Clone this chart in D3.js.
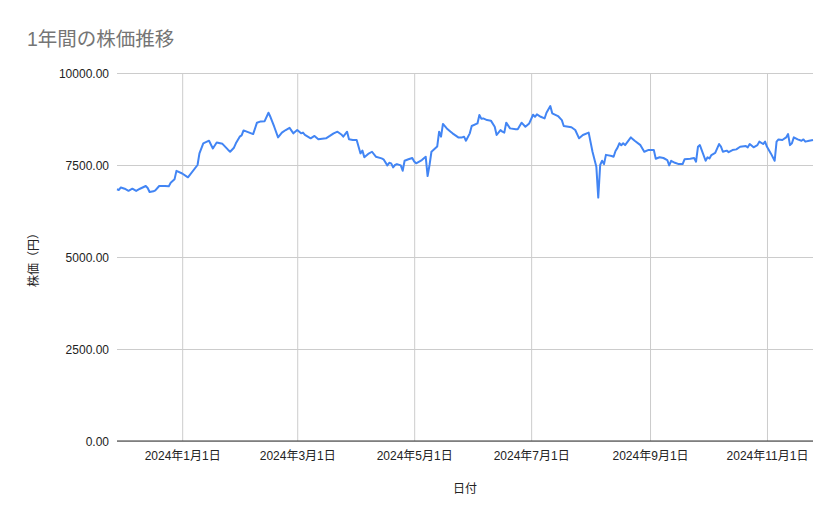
<!DOCTYPE html>
<html>
<head>
<meta charset="utf-8">
<script src="https://cdn.jsdelivr.net/npm/d3@7"></script>
<style>
  body { margin: 0; background: #fff; }
  text { font-family: "Liberation Sans", Arial, "Noto Sans CJK JP", sans-serif; }
</style>
</head>
<body>
<div id="container"></div>
<script>
/* DATA */
const title = "1年間の株価推移";
const xTitle = "日付";
const yTitle = "株価（円）";
const yTicks = [0, 2500, 5000, 7500, 10000];
const xTicks = ["2024-01-01", "2024-03-01", "2024-05-01", "2024-07-01", "2024-09-01", "2024-11-01"];

// closing price by date
const dates = [
  "2023-11-28","2023-11-29","2023-11-30","2023-12-02","2023-12-04","2023-12-06","2023-12-08","2023-12-10",
  "2023-12-13","2023-12-14","2023-12-15","2023-12-17","2023-12-18","2023-12-20","2023-12-23","2023-12-25",
  "2023-12-26","2023-12-28","2023-12-29","2024-01-01","2024-01-04","2024-01-09","2024-01-10","2024-01-12",
  "2024-01-15","2024-01-17","2024-01-19","2024-01-22","2024-01-25","2024-01-26","2024-01-28","2024-01-29",
  "2024-01-31","2024-02-01","2024-02-02","2024-02-04","2024-02-07","2024-02-09","2024-02-11","2024-02-13",
  "2024-02-15","2024-02-16","2024-02-18","2024-02-20","2024-02-22","2024-02-24","2024-02-26","2024-02-28",
  "2024-03-01","2024-03-03","2024-03-04","2024-03-05","2024-03-08","2024-03-10","2024-03-12","2024-03-14",
  "2024-03-16","2024-03-18","2024-03-20","2024-03-22","2024-03-24","2024-03-25","2024-03-27","2024-03-28",
  "2024-03-30","2024-04-01","2024-04-03","2024-04-04","2024-04-05","2024-04-07","2024-04-09","2024-04-11",
  "2024-04-14","2024-04-15","2024-04-17","2024-04-18","2024-04-19","2024-04-20","2024-04-21","2024-04-22",
  "2024-04-24","2024-04-25","2024-04-26","2024-04-28","2024-04-30","2024-05-01","2024-05-02","2024-05-05",
  "2024-05-07","2024-05-08","2024-05-09","2024-05-10","2024-05-13","2024-05-14","2024-05-15","2024-05-16",
  "2024-05-18","2024-05-20","2024-05-21","2024-05-24","2024-05-26","2024-05-27","2024-05-28","2024-05-30",
  "2024-05-31","2024-06-03","2024-06-04","2024-06-05","2024-06-06","2024-06-08","2024-06-10","2024-06-12",
  "2024-06-13","2024-06-15","2024-06-16","2024-06-17","2024-06-18","2024-06-20","2024-06-23","2024-06-24",
  "2024-06-26","2024-06-28","2024-06-30","2024-07-02","2024-07-03","2024-07-04","2024-07-06","2024-07-08",
  "2024-07-09","2024-07-11","2024-07-12","2024-07-15","2024-07-17","2024-07-18","2024-07-22","2024-07-24",
  "2024-07-26","2024-07-28","2024-07-31","2024-08-02","2024-08-04","2024-08-05","2024-08-06","2024-08-07",
  "2024-08-08","2024-08-09","2024-08-12","2024-08-13","2024-08-14","2024-08-15","2024-08-16","2024-08-17",
  "2024-08-18","2024-08-19","2024-08-22","2024-08-24","2024-08-27","2024-08-29","2024-08-31","2024-09-03",
  "2024-09-04","2024-09-06","2024-09-08","2024-09-10","2024-09-11","2024-09-12","2024-09-14","2024-09-16",
  "2024-09-18","2024-09-19","2024-09-22","2024-09-24","2024-09-25","2024-09-26","2024-09-27","2024-09-30",
  "2024-10-01","2024-10-02","2024-10-03","2024-10-05","2024-10-07","2024-10-08","2024-10-09","2024-10-11",
  "2024-10-12","2024-10-14","2024-10-16","2024-10-18","2024-10-21","2024-10-22","2024-10-23","2024-10-25",
  "2024-10-27","2024-10-28","2024-10-30","2024-10-31","2024-11-01","2024-11-03","2024-11-05","2024-11-06",
  "2024-11-07","2024-11-09","2024-11-11","2024-11-12","2024-11-13","2024-11-14","2024-11-15","2024-11-17",
  "2024-11-19","2024-11-20","2024-11-21","2024-11-23","2024-11-25"
];
const prices = [
  6840, 6820, 6890, 6855, 6800, 6855, 6795, 6855,
  6930, 6875, 6765, 6785, 6810, 6930, 6930, 6920,
  7020, 7110, 7340, 7270, 7165, 7500, 7815, 8090,
  8160, 7950, 8110, 8075, 7910, 7860, 7970, 8090,
  8270, 8305, 8440, 8400, 8340, 8650, 8685, 8690,
  8920, 8810, 8540, 8250, 8380, 8450, 8510, 8360,
  8450, 8360, 8380, 8320, 8225, 8290, 8200, 8215,
  8225, 8290, 8360, 8405, 8330, 8270, 8405, 8200,
  8180, 8180, 7815, 7890, 7710, 7800, 7860, 7725,
  7680, 7655, 7490, 7560, 7545, 7435, 7500, 7525,
  7490, 7345, 7615, 7655, 7690, 7595, 7545, 7635,
  7725, 7200, 7500, 7860, 8000, 8405, 8270, 8615,
  8495, 8405, 8360, 8250, 8250, 8270, 8160, 8360,
  8560, 8630, 8860, 8760, 8765, 8720, 8705, 8540,
  8315, 8450, 8405, 8380, 8650, 8495, 8470, 8470,
  8650, 8540, 8630, 8865, 8810, 8875, 8810, 8765,
  8920, 9100, 8905, 8830, 8720, 8560, 8525, 8450,
  8225, 8315, 8380, 7860, 7455, 6615, 7500, 7615,
  7525, 7775, 7745, 7725, 7880, 7965, 8090, 8035,
  8090, 8040, 8250, 8160, 8040, 7860, 7905, 7905,
  7670, 7710, 7690, 7635, 7490, 7615, 7560, 7525,
  7525, 7655, 7670, 7690, 7590, 7995, 8040, 7615,
  7710, 7680, 7770, 7830, 8070, 8000, 7860, 7890,
  7850, 7905, 7925, 7995, 8015, 7980, 8070, 7980,
  8040, 8135, 8070, 8135, 7995, 7815, 7615, 8135,
  8195, 8180, 8250, 8340, 8040, 8090, 8250, 8195,
  8160, 8195, 8135, 8160, 8180
];

/* CONSTANTS */
const width = 839, height = 519,
      margin = { top: 73, bottom: 78, left: 117, right: 26 };

const parse = d3.timeParse("%Y-%m-%d");
const data = dates.map((d, i) => ({ date: parse(d), price: prices[i] }));

/* SCALES */
const xScale = d3.scaleTime()
  .domain(d3.extent(data, d => d.date))
  .range([margin.left, width - margin.right]);

const yScale = d3.scaleLinear()
  .domain([0, 10000])
  .range([height - margin.bottom, margin.top]);

/* SVG SETUP */
const svg = d3.select("#container").append("svg")
  .attr("width", width)
  .attr("height", height);

svg.append("text")
  .attr("x", 27)
  .attr("y", 46)
  .attr("fill", "#757575")
  .attr("font-size", "19.5px")
  .text(title);

/* GRIDLINES AND AXES */
const yAxis = d3.axisLeft(yScale)
  .tickValues(yTicks)
  .tickSize(-(width - margin.left - margin.right))
  .tickPadding(8)
  .tickFormat(d3.format(".2f"));

svg.append("g")
  .attr("transform", `translate(${margin.left},0)`)
  .call(yAxis)
  .call(g => g.select(".domain").remove())
  .call(g => g.selectAll(".tick line").attr("stroke", "#cccccc"))
  .call(g => g.selectAll(".tick text")
    .attr("fill", "#222")
    .attr("font-size", "12px")
    .attr("dy", "0.35em"));

const xAxis = d3.axisBottom(xScale)
  .tickValues(xTicks.map(parse))
  .tickSize(-(height - margin.top - margin.bottom))
  .tickPadding(10)
  .tickFormat(d3.timeFormat("%Y年%-m月%-d日"));

svg.append("g")
  .attr("transform", `translate(0,${height - margin.bottom})`)
  .call(xAxis)
  .call(g => g.select(".domain").remove())
  .call(g => g.selectAll(".tick line").attr("stroke", "#cccccc"))
  .call(g => g.selectAll(".tick text")
    .attr("fill", "#222")
    .attr("font-size", "12px"));

// baseline
svg.append("line")
  .attr("x1", margin.left)
  .attr("x2", width - margin.right)
  .attr("y1", yScale(0))
  .attr("y2", yScale(0))
  .attr("stroke", "#333");

/* AXIS TITLES */
svg.append("text")
  .attr("x", (margin.left + width - margin.right) / 2)
  .attr("y", 493)
  .attr("text-anchor", "middle")
  .attr("fill", "#222")
  .attr("font-size", "12px")
  .text(xTitle);

svg.append("text")
  .attr("transform", `translate(38,${(margin.top + height - margin.bottom) / 2}) rotate(-90)`)
  .attr("text-anchor", "middle")
  .attr("fill", "#222")
  .attr("font-size", "12px")
  .text(yTitle);

/* LINE */
const line = d3.line()
  .x(d => xScale(d.date))
  .y(d => yScale(d.price));

svg.append("path")
  .datum(data)
  .attr("fill", "none")
  .attr("stroke", "#4285f4")
  .attr("stroke-width", 2)
  .attr("stroke-linejoin", "round")
  .attr("d", line);
</script>
</body>
</html>
